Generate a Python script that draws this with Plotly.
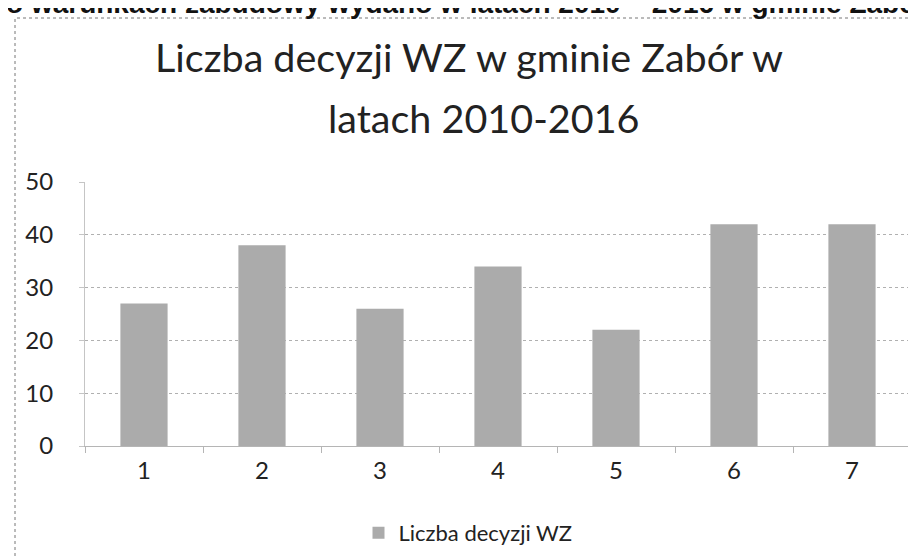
import plotly.graph_objects as go

categories = ["1", "2", "3", "4", "5", "6", "7"]
values = [27, 38, 26, 34, 22, 42, 42]
series_name = "Liczba decyzji WZ"
title_lines = ["Liczba decyzji WZ w gminie Zabór w", "latach 2010-2016"]
header_text = "o warunkach zabudowy wydano w latach 2010 – 2016 w gminie Zabó"
y_ticks = [0, 10, 20, 30, 40, 50]

FONT = "Lato, Open Sans, sans-serif"
W, H = 916, 558
L, R, T, B = 77, 13, 174, 120
pw, ph = W - L - R, H - T - B


def px(x):
    return (x - L) / pw


def py(y):
    return (H - B - y) / ph


fig = go.Figure()
fig.add_trace(go.Bar(
    x=categories, y=values, name=series_name,
    marker=dict(color="#ababab", line=dict(width=0)),
    width=0.4, showlegend=True,
))

TITLE_SIZE = 39.5
fig.update_layout(
    width=W, height=H,
    margin=dict(l=L, r=R, t=T, b=B, autoexpand=False),
    paper_bgcolor="white", plot_bgcolor="white",
    font=dict(family=FONT, color="#222222"),
    title=dict(
        text=title_lines[0],
        font=dict(family=FONT, size=TITLE_SIZE, color="#222222"),
        x=461 / W, xanchor="center", xref="container",
        y=1 - 50 / H, yanchor="middle", yref="container",
    ),
    showlegend=True,
    legend=dict(
        orientation="h", x=px(460), xanchor="center",
        y=py(525), yanchor="middle", yref="paper",
        font=dict(family=FONT, size=22, color="#222222"),
        itemwidth=30,
    ),
)
fig.update_xaxes(
    type="category", showgrid=False,
    showline=True, linecolor="#b5b5b5", linewidth=1,
    ticks="outside", tickson="boundaries", ticklen=6, tickcolor="#b5b5b5",
    tickfont=dict(family=FONT, size=24, color="#222222"),
    ticklabelstandoff=3,
)
fig.update_yaxes(
    range=[0, 50], tickmode="array", tickvals=y_ticks,
    showgrid=True, gridcolor="#b0b0b0", gridwidth=1, griddash="dot",
    showline=True, linecolor="#c5c5c5", linewidth=1,
    ticks="outside", ticklen=5, tickcolor="#c5c5c5",
    tickfont=dict(family=FONT, size=24, color="#222222"),
    ticklabelstandoff=21, zeroline=False,
)

# second title line (placed separately to match the original line spacing)
fig.add_annotation(
    text=title_lines[1], xref="paper", yref="paper",
    x=px(475), y=py(109), xanchor="center", yanchor="middle",
    showarrow=False,
    font=dict(family=FONT, size=TITLE_SIZE, color="#222222"),
)

# chart frame (dotted border of the embedded chart)
fig.add_shape(type="rect", xref="paper", yref="paper",
              x0=px(7), x1=px(W + 5), y0=py(H + 5), y1=py(10),
              line=dict(color="#777777", width=1, dash="dot"), layer="above")

# cropped header line of the surrounding document
fig.add_annotation(
    text="<b>" + header_text + "</b>", xref="paper", yref="paper",
    x=px(-4), y=py(-4), xanchor="left", yanchor="middle",
    showarrow=False,
    font=dict(family="Liberation Sans, Arial, sans-serif", size=28, color="#111111"),
)

fig.write_html("out.html")
